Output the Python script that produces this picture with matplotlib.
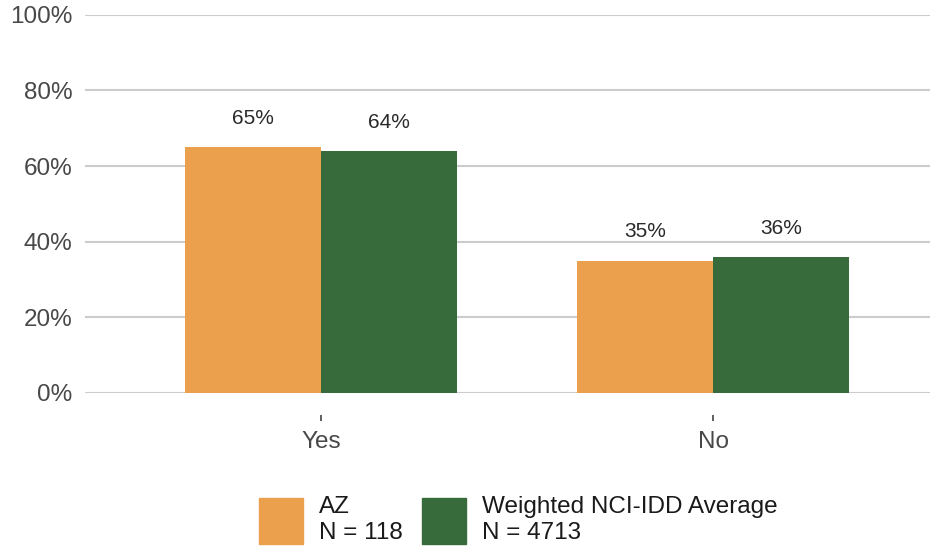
import numpy as np
import matplotlib.pyplot as plt
from matplotlib.patches import Patch

categories = ['Yes', 'No']
az_values = [65, 35]
nci_values = [64, 36]
series_names = ['AZ\nN = 118', 'Weighted NCI-IDD Average\nN = 4713']
colors = ['#EBA04E', '#386B3C']

plt.rcParams['font.family'] = ['Liberation Sans', 'DejaVu Sans']

fig = plt.figure(figsize=(9.36, 5.5), dpi=100)
ax = fig.add_axes([0.091, 0.2855, 0.903, 0.6875])

x = np.arange(len(categories))
w = 0.347
bars1 = ax.bar(x - w / 2, az_values, w, color=colors[0], zorder=3)
bars2 = ax.bar(x + w / 2, nci_values, w, color=colors[1], zorder=3)

for bars, vals in [(bars1, az_values), (bars2, nci_values)]:
    for b, v in zip(bars, vals):
        ax.text(b.get_x() + b.get_width() / 2, v + 7.6, f'{v}%',
                ha='center', va='center', fontsize=15, color='#2a2a2a')

ax.set_ylim(0, 100)
ax.set_xlim(-0.602, 1.554)
ax.set_yticks(range(0, 101, 20))
ax.set_yticklabels([f'{t}%' for t in range(0, 101, 20)])
ax.set_xticks(x)
ax.set_xticklabels(categories)
ax.tick_params(axis='both', labelsize=17.5, labelcolor='#484848')
ax.tick_params(axis='y', length=0, pad=9)
# small detached tick marks under the categories
ax.spines['bottom'].set_position(('outward', 15.5))
ax.tick_params(axis='x', length=4.5, width=1.2, color='#444444', direction='out', pad=7.5)
ax.yaxis.grid(True, color='#cccccc', linewidth=1.5, zorder=0)
for s in ax.spines.values():
    s.set_visible(False)

handles = [Patch(color=c) for c in colors]
fig.legend(handles, series_names, loc='center', bbox_to_anchor=(0.5534, 0.0545),
           ncol=2, frameon=False, fontsize=17.5, handlelength=1.81, handleheight=2.53,
           handletextpad=0.66, columnspacing=0.78, labelspacing=0, labelcolor='#1a1a1a')

fig.savefig('out.png', dpi=100)
